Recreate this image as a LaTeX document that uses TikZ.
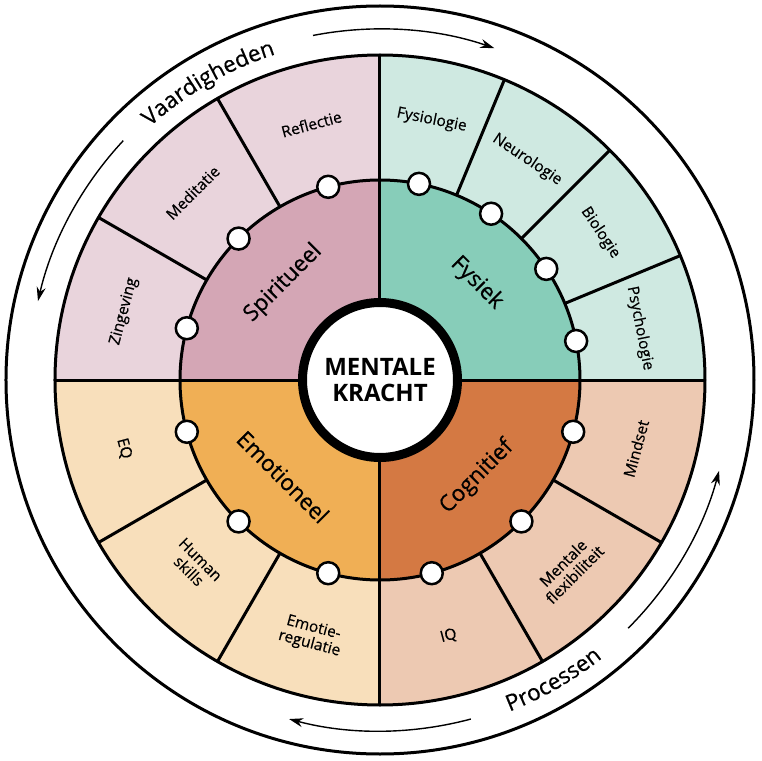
\documentclass[tikz,border=0pt]{standalone}
\usepackage{fontspec}
\setmainfont{Open Sans}
\newfontfamily\medfont[FakeBold=0.5]{Open Sans}
\usetikzlibrary{arrows.meta,decorations.text}
\definecolor{spdark}{HTML}{D4A6B5}
\definecolor{splight}{HTML}{E9D4DC}
\definecolor{fydark}{HTML}{87CDB9}
\definecolor{fylight}{HTML}{CFE9E1}
\definecolor{codark}{HTML}{D47943}
\definecolor{colight}{HTML}{EDC9B2}
\definecolor{emdark}{HTML}{F0AF55}
\definecolor{emlight}{HTML}{F8DFBB}
\begin{document}
\begin{tikzpicture}[x=1pt,y=1pt,
  ln/.style={line width=3pt},
  dot/.style={circle, draw, line width=2.5pt, fill=white, minimum size=22pt, inner sep=0pt},
  slabel/.style={font=\medfont\fontsize{15.5}{16.5}\selectfont, align=center, inner sep=0pt},
  qlabel/.style={font=\medfont\fontsize{22.5}{24}\selectfont, inner sep=0pt},
  cyc/.style={line width=1.4pt, -{Stealth[length=14pt,width=9pt]}}]
\useasboundingbox (-380,-381) rectangle (381,380);
\fill[white] (-380,-381) rectangle (381,380);
% outer circle
\draw[ln] (0,0) circle[radius=374pt];
% sector ring
\fill[fylight] (0,0) -- (0:325pt) arc[start angle=0,end angle=90,radius=325pt] -- cycle;
\fill[splight] (0,0) -- (90:325pt) arc[start angle=90,end angle=180,radius=325pt] -- cycle;
\fill[emlight] (0,0) -- (180:325pt) arc[start angle=180,end angle=270,radius=325pt] -- cycle;
\fill[colight] (0,0) -- (270:325pt) arc[start angle=270,end angle=360,radius=325pt] -- cycle;
% quadrants
\fill[fydark] (0,0) -- (0:200pt) arc[start angle=0,end angle=90,radius=200pt] -- cycle;
\fill[spdark] (0,0) -- (90:200pt) arc[start angle=90,end angle=180,radius=200pt] -- cycle;
\fill[emdark] (0,0) -- (180:200pt) arc[start angle=180,end angle=270,radius=200pt] -- cycle;
\fill[codark] (0,0) -- (270:200pt) arc[start angle=270,end angle=360,radius=200pt] -- cycle;
% radial separators
\foreach \a in {22.5,45,67.5,120,150,210,240,300,330}
  \draw[ln] (\a:200pt) -- (\a:325pt);
\draw[ln] (0,-325) -- (0,325);
\draw[ln] (-325,0) -- (325,0);
\draw[ln] (0,0) circle[radius=325pt];
\draw[ln] (0,0) circle[radius=200pt];
% centre
\node[circle, draw, line width=9pt, fill=white, minimum size=155pt, inner sep=0pt,
  font=\bfseries\fontsize{24}{25.5}\selectfont, align=center] (centre) at (0,0) {MENTALE\\KRACHT};
% dots
\foreach \a [count=\i] in {105,135,165,78.75,56.25,33.75,11.25,-15,-45,-75,195,225,255}
  \node[dot] (d\i) at (\a:200pt) {};
% quadrant labels
\node[qlabel, rotate=45] (qsp) at (135:137pt) {Spiritueel};
\node[qlabel, rotate=-45] (qfy) at (45:137pt) {Fysiek};
\node[qlabel, rotate=45] (qco) at (-45:137pt) {Cognitief};
\node[qlabel, rotate=-45] (qem) at (225:137pt) {Emotioneel};
% sector labels
\node[slabel, rotate=15] (s1) at (105:265pt) {Reflectie};
\node[slabel, rotate=45] (s2) at (135:265pt) {Meditatie};
\node[slabel, rotate=75] (s3) at (165:265pt) {Zingeving};
\node[slabel, rotate=-11.25] (s4) at (78.75:265pt) {Fysiologie};
\node[slabel, rotate=-33.75] (s5) at (56.25:265pt) {Neurologie};
\node[slabel, rotate=-56.25] (s6) at (33.75:265pt) {Biologie};
\node[slabel, rotate=-78.75] (s7) at (11.25:265pt) {Psychologie};
\node[slabel, rotate=75] (s8) at (-15:265pt) {Mindset};
\node[slabel, rotate=45] (s9) at (-45:267pt) {Mentale\\flexibiliteit};
\node[slabel, rotate=15] (s10) at (-75:265pt) {IQ};
\node[slabel, rotate=-75] (s11) at (195:265pt) {EQ};
\node[slabel, rotate=-45] (s12) at (225:262pt) {Human\\skills};
\node[slabel, rotate=-15] (s13) at (255:265pt) {Emotie-\\regulatie};
% outer ring texts
\path[decorate, decoration={text along path, text={|\medfont\fontsize{22.5}{24}\selectfont|Vaardigheden}, text align=center}]
  (150:342pt) arc[start angle=150,end angle=90,radius=342pt];
\path[decorate, decoration={text along path, text={|\medfont\fontsize{22.5}{24}\selectfont|Processen}, text align=center}]
  (-90:356pt) arc[start angle=-90,end angle=-30,radius=356pt];
% cycle arrows
\draw[cyc] (101:351pt) arc[start angle=101,end angle=71,radius=351pt];
\draw[cyc] (137:351pt) arc[start angle=137,end angle=167,radius=351pt];
\draw[cyc] (-45:351pt) arc[start angle=-45,end angle=-15,radius=351pt];
\draw[cyc] (-75:351pt) arc[start angle=-75,end angle=-105,radius=351pt];
\end{tikzpicture}
\end{document}
